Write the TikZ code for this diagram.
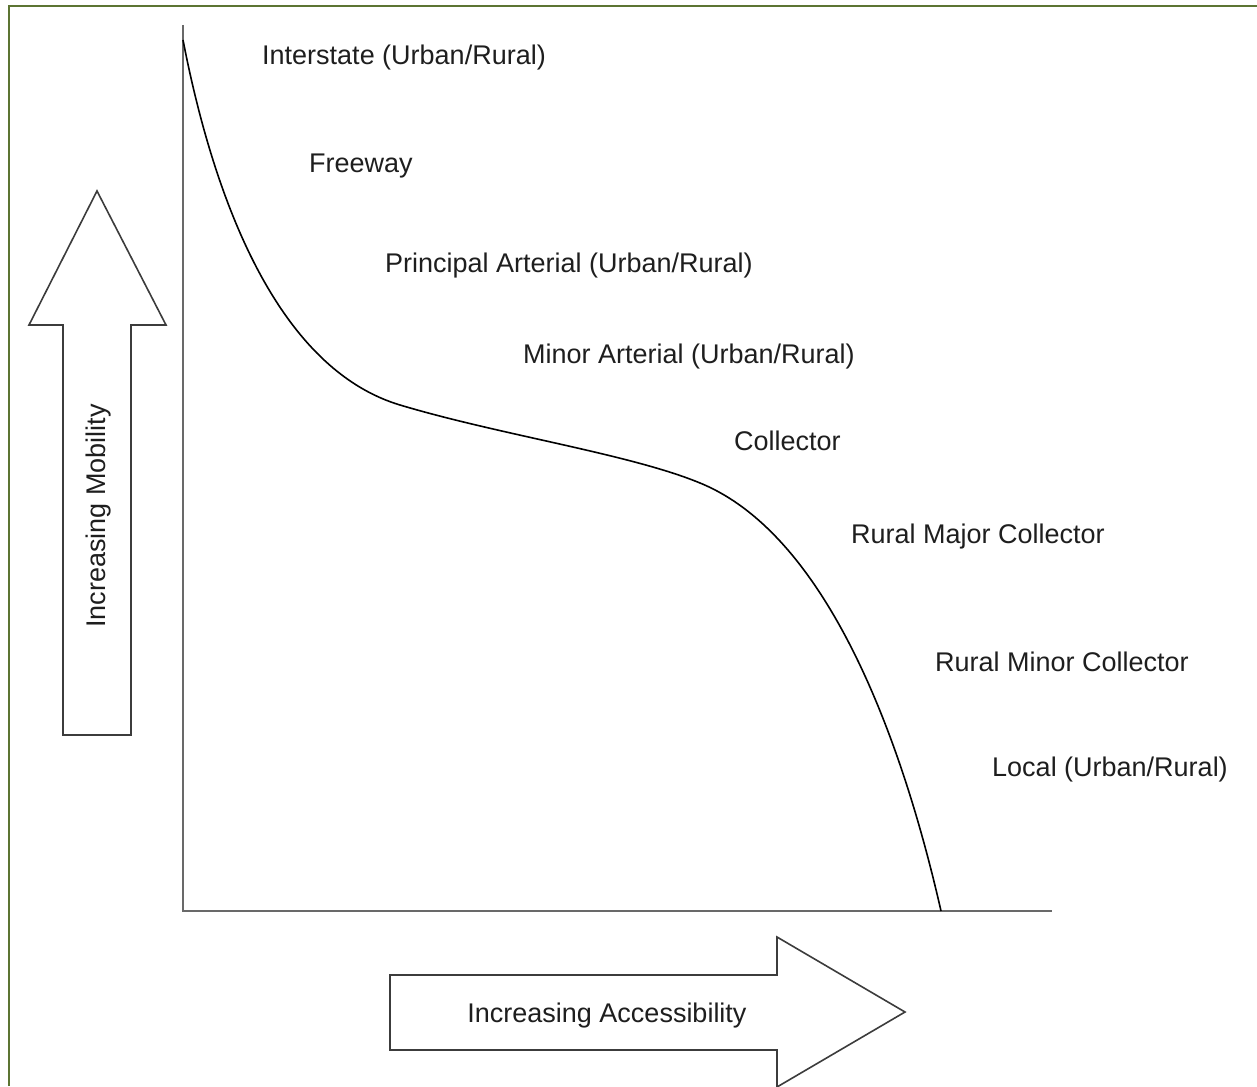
\documentclass[tikz,border=0pt]{standalone}
\usepackage{fontspec}
\setmainfont{Liberation Sans}
\definecolor{framegreen}{RGB}{92,116,50}
\definecolor{axisgray}{RGB}{105,105,105}
\definecolor{outline}{RGB}{60,60,60}
\definecolor{txt}{RGB}{30,30,30}
\begin{document}
\begin{tikzpicture}[x=1pt,y=-1pt,
  lbl/.style={anchor=base west,inner sep=0pt,text=txt,font=\fontsize{27}{32}\selectfont},
  bigarrow/.style={draw=outline,line width=1.6pt,fill=white,line join=miter},
  axisline/.style={draw=axisgray,line width=2.4pt},
  curveline/.style={draw=black,line width=1.6pt},
  frameline/.style={draw=framegreen,line width=2.8pt}]
\useasboundingbox (0,0) rectangle (1257,1086);
% frame (top and left edges only)
\draw[frameline] (9,1086) -- (9,6) -- (1257,6);
% axes
\coordinate (ytop) at (183,25);
\coordinate (orig) at (183,911);
\coordinate (xend) at (1052,911);
\draw[axisline] (ytop) -- (orig) -- (xend);
% curve
\coordinate (c0) at (183,40);
\coordinate (c1) at (400,405);
\coordinate (c2) at (700,483);
\coordinate (c3) at (941,911);
\draw[curveline] (c0) .. controls (220,230) and (290,372) .. (c1)
  .. controls (500,435) and (630,454) .. (c2)
  .. controls (820,532) and (897,718) .. (c3);
% labels
\node[lbl] (interstate) at (262,65) {Interstate (Urban/Rural)};
\node[lbl] (freeway) at (309,173) {Freeway};
\node[lbl] (principal) at (385,272) {Principal Arterial (Urban/Rural)};
\node[lbl] (minor) at (523,363) {Minor Arterial (Urban/Rural)};
\node[lbl] (collector) at (734,450) {Collector};
\node[lbl] (rmajor) at (851,543) {Rural Major Collector};
\node[lbl] (rminor) at (935,671) {Rural Minor Collector};
\node[lbl] (local) at (992,776) {Local (Urban/Rural)};
% mobility arrow
\draw[bigarrow] (63,735) -- (63,325) -- (29,325) -- (97,191) -- (166,325)
  -- (131,325) -- (131,735) -- cycle;
\node[inner sep=0pt,text=txt,font=\fontsize{27}{32}\selectfont,rotate=90] (mobility) at (99,516) {Increasing Mobility};
% accessibility arrow
\draw[bigarrow] (390,975) -- (777,975) -- (777,937) -- (905,1012) -- (777,1087)
  -- (777,1050) -- (390,1050) -- cycle;
\node[inner sep=0pt,text=txt,font=\fontsize{27}{32}\selectfont] (access) at (607,1016) {Increasing Accessibility};
\end{tikzpicture}
\end{document}
